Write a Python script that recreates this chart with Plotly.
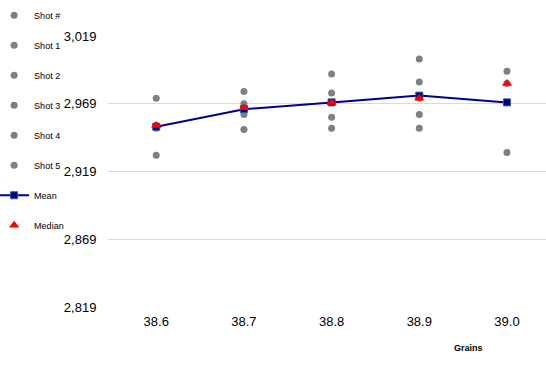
import plotly.graph_objects as go

grains = [38.6, 38.7, 38.8, 38.9, 39.0]
shot1 = [2973, 2978, 2991, 3002, 2993]
shot2 = [2953, 2969, 2977, 2985, 2984]
shot3 = [2952, 2964, 2970, 2973, 2970]
shot4 = [2951, 2961, 2959, 2961, 2970]
shot5 = [2931, 2950, 2951, 2951, 2933]
mean_v = [2952, 2965, 2970, 2975, 2970]
median_v = [2953, 2966, 2970, 2973, 2984]
y_ticks = [2819, 2869, 2919, 2969, 3019]
x_ticks = ["38.6", "38.7", "38.8", "38.9", "39.0"]

GREY = "#808080"
fig = go.Figure()

fig.add_trace(go.Scatter(x=[None], y=[None], mode="markers", name="Shot #",
                         marker=dict(color=GREY, size=7), legendgroup="g0"))
for i, s in enumerate([shot1, shot2, shot3, shot4, shot5], start=1):
    fig.add_trace(go.Scatter(x=grains, y=s, mode="markers", name=f"Shot {i}",
                             marker=dict(color=GREY, size=7), legendgroup=f"g{i}"))
fig.add_trace(go.Scatter(x=grains, y=mean_v, mode="lines+markers", name="Mean",
                         line=dict(color="#000090", width=2),
                         marker=dict(symbol="square", size=7, color="#000090",
                                     line=dict(color="#2E5E8E", width=1)),
                         legendgroup="g6"))
fig.add_trace(go.Scatter(x=grains, y=median_v, mode="markers", name="Median",
                         marker=dict(symbol="triangle-up", size=9, color="#FF0000"),
                         legendgroup="g7"))

fig.update_layout(
    width=546, height=367,
    margin=dict(l=108, r=0, t=36, b=60, autoexpand=False),
    paper_bgcolor="white", plot_bgcolor="white",
    font=dict(family="Liberation Sans, Arial, sans-serif", color="#000000"),
    showlegend=True,
    legend=dict(x=-0.26, xanchor="left", y=1.13, yanchor="top",
                font=dict(size=9, color="#000000"), tracegroupgap=11,
                itemwidth=30, bgcolor="rgba(0,0,0,0)", maxheight=1),
    xaxis=dict(range=[38.545, 39.0445], tickvals=grains, ticktext=x_ticks,
               showgrid=False, zeroline=False, showline=False,
               tickfont=dict(size=13), ticks="outside", ticklen=2,
               tickcolor="rgba(0,0,0,0)", automargin=False),
    yaxis=dict(range=[2819, 3019], tickvals=y_ticks, tickformat=",d",
               showgrid=True, gridcolor="#D9D9D9", gridwidth=1,
               zeroline=False, showline=False, tickfont=dict(size=13),
               ticks="outside", ticklen=8, tickcolor="rgba(0,0,0,0)",
               automargin=False),
    annotations=[dict(text="<b>Grains</b>", x=38.6 + (468 - 156) / 877.5,
                      y=(367 - 60 - 348) / 271, xref="x", yref="paper",
                      xanchor="center", yanchor="middle",
                      showarrow=False, font=dict(size=9))],
)
fig.write_html("out.html", config={"displayModeBar": False},
               post_script="document.body.style.margin='0';")
